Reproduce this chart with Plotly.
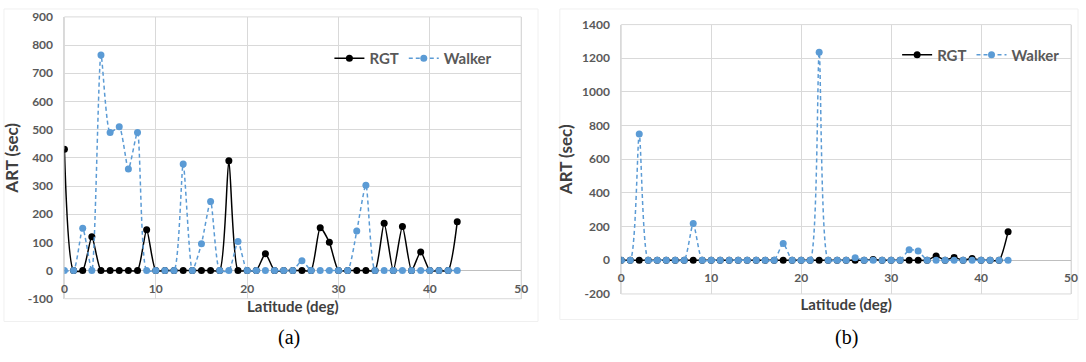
import plotly.graph_objects as go

lat = list(range(0, 44))

rgt_a = [430, 0, 0, 120, 0, 0, 0, 0, 0, 145, 0, 0, 0, 0, 0, 0, 0, 0, 390, 0, 0, 0,
         60, 0, 0, 0, 0, 0, 152, 100, 0, 0, 0, 0, 0, 168, 0, 156, 0, 66, 0, 0, 0, 173]
walker_a = [0, 0, 150, 0, 765, 490, 510, 360, 490, 0, 0, 0, 0, 378, 0, 95, 245, 0, 0, 103, 0, 0,
            0, 0, 0, 0, 35, 0, 0, 0, 0, 0, 140, 303, 0, 0, 0, 0, 0, 0, 0, 0, 0, 0]

rgt_b = [0] * 28 + [5, 0, 0, 0, 0, 0, 0, 26, 0, 17, 0, 11, 0, 0, 0, 170]
walker_b = [0, 0, 750, 0, 0, 0, 0, 0, 218, 0, 0, 0, 0, 0, 0, 0, 0, 0, 100, 0, 0, 0,
            1235, 0, 0, 0, 15, 0, 0, 0, 0, 0, 62, 55, 0, 0, 0, 0, 0, 0, 0, 0, 0, 0]

x_ticks = [0, 10, 20, 30, 40, 50]
y_ticks_a = list(range(-100, 901, 100))
y_labels_a = [str(v) for v in y_ticks_a]
y_ticks_b = list(range(-200, 1401, 200))
y_labels_b = [str(v) for v in y_ticks_b]

W, H = 1086, 362
BLACK = "#000000"
BLUE = "#5b9bd5"
GRID = "#d9d9d9"
TICK = "#595959"
FONT = "Lato"

fig = go.Figure()

def add_pair(rgt, walker, xa, ya, legend):
    fig.add_trace(go.Scatter(
        x=lat, y=rgt, name="RGT", mode="lines+markers",
        line=dict(color=BLACK, width=1.5, shape="spline", smoothing=0.6),
        marker=dict(color=BLACK, size=7),
        xaxis=xa, yaxis=ya, legend=legend, showlegend=True))
    fig.add_trace(go.Scatter(
        x=lat, y=walker, name="Walker", mode="lines+markers",
        line=dict(color=BLUE, width=1.5, dash="4px,3px", shape="spline", smoothing=0.6),
        marker=dict(color=BLUE, size=7),
        xaxis=xa, yaxis=ya, legend=legend, showlegend=True))

add_pair(rgt_a, walker_a, "x", "y", "legend")
add_pair(rgt_b, walker_b, "x2", "y2", "legend2")

def px_x(p):
    return p / W

def px_y(p):
    return 1 - p / H

tickfont = dict(family=FONT, size=12, color=TICK, weight="bold")
ytitlefont = dict(family=FONT, size=17, color="#404040", weight="bold")
xtitlefont = dict(family=FONT, size=15, color="#404040", weight="bold")

# plot-area pixel geometry
A_TOP, A_BOT = 9.3, 303.3
B_TOP, B_BOT = 17.3, 298.3
A_Y0 = A_TOP + (900 / 1000) * (A_BOT - A_TOP)
B_Y0 = B_TOP + (1400 / 1600) * (B_BOT - B_TOP)

common_x = dict(
    range=[0, 50], tickvals=x_ticks, showgrid=True, gridcolor=GRID, gridwidth=1,
    zeroline=False, showline=False, ticks="", tickfont=tickfont, anchor="free",
    ticklabelstandoff=9,
)
common_y = dict(
    showgrid=True, gridcolor=GRID, gridwidth=1, zeroline=True, zerolinecolor="#bfbfbf",
    zerolinewidth=1, showline=True, linecolor=GRID, mirror=True, ticks="",
    tickfont=tickfont, ticklabelstandoff=8,
)

fig.update_layout(
    width=W, height=H, margin=dict(l=0, r=0, t=0, b=0),
    paper_bgcolor="white", plot_bgcolor="white",
    xaxis=dict(common_x, domain=[px_x(62), px_x(523)], position=px_y(A_Y0),
               title=dict(text="Latitude (deg)", font=xtitlefont, standoff=6)),
    yaxis=dict(common_y, domain=[px_y(A_BOT), px_y(A_TOP)], range=[-100, 900],
               tickvals=y_ticks_a, ticktext=y_labels_a, anchor="x",
               title=dict(text="ART (sec)", font=ytitlefont, standoff=4)),
    xaxis2=dict(common_x, domain=[px_x(624), px_x(1078)], position=px_y(B_Y0),
                title=dict(text="Latitude (deg)", font=xtitlefont, standoff=15)),
    yaxis2=dict(common_y, domain=[px_y(B_BOT), px_y(B_TOP)], range=[-200, 1400],
                tickvals=y_ticks_b, ticktext=y_labels_b, anchor="x2",
                title=dict(text="ART (sec)", font=ytitlefont, standoff=5)),
    legend=dict(orientation="h", x=px_x(499), y=px_y(52.7), xanchor="right", yanchor="middle",
                font=dict(family=FONT, size=15, color=TICK, weight="bold"),
                bgcolor="rgba(0,0,0,0)", itemwidth=30, tracegroupgap=0),
    legend2=dict(orientation="h", x=px_x(1072), y=px_y(49), xanchor="right", yanchor="middle",
                 font=dict(family=FONT, size=15, color=TICK, weight="bold"),
                 bgcolor="rgba(0,0,0,0)", itemwidth=30, tracegroupgap=0),
    annotations=[
        dict(text="(a)", x=px_x(289), y=px_y(344), xref="paper", yref="paper",
             xanchor="center", yanchor="middle", showarrow=False,
             font=dict(family="Liberation Serif", size=20, color="#000")),
        dict(text="(b)", x=px_x(851), y=px_y(344), xref="paper", yref="paper",
             xanchor="center", yanchor="middle", showarrow=False,
             font=dict(family="Liberation Serif", size=20, color="#000")),
    ],
    shapes=[
        dict(type="rect", xref="paper", yref="paper", x0=px_x(1), x1=px_x(540),
             y0=px_y(327), y1=px_y(1), line=dict(color="#f0f0f0", width=1), layer="below"),
        dict(type="rect", xref="paper", yref="paper", x0=px_x(562), x1=px_x(1085),
             y0=px_y(325), y1=px_y(1), line=dict(color="#f0f0f0", width=1), layer="below"),
        dict(type="rect", xref="x domain", yref="y domain", x0=0, x1=1, y0=0, y1=1,
             line=dict(color=GRID, width=1), layer="below"),
        dict(type="rect", xref="x2 domain", yref="y2 domain", x0=0, x1=1, y0=0, y1=1,
             line=dict(color=GRID, width=1), layer="below"),
    ],
)

fig.write_html("out.html")
